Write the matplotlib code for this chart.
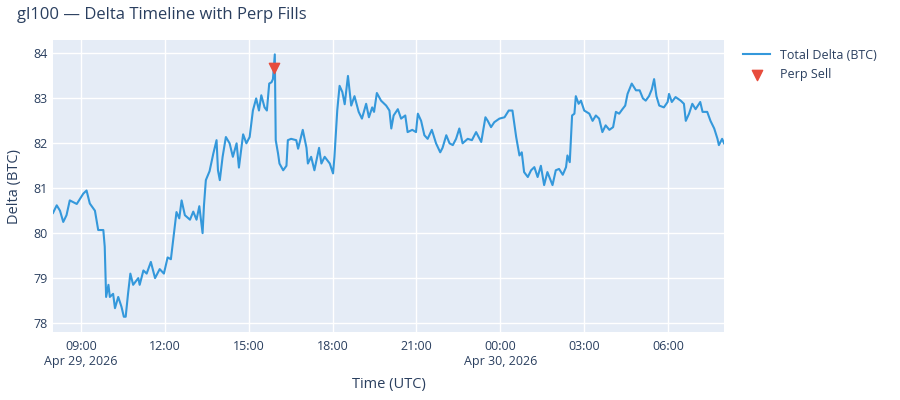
import pandas as pd
import matplotlib.pyplot as plt
import matplotlib.dates as mdates

plt.rcParams['font.family'] = ['Open Sans', 'DejaVu Sans']

start = pd.Timestamp('2026-04-29 08:00')

# minutes after 08:00 UTC, Apr 29
minutes = [0, 8, 15, 22, 29, 36, 51, 65, 72, 79, 90, 97, 108, 111, 114, 119, 122, 129, 133, 140,
           147, 152, 156, 161, 166, 172, 183, 186, 194, 201, 210, 219, 229, 238, 246, 253, 258, 265, 271, 276,
           283, 294, 301, 308, 314, 321, 324, 328, 336, 344, 351, 354, 358, 364, 371, 379, 386, 394, 399, 408,
           415, 422, 429, 436, 442, 447, 454, 459, 464, 469, 472, 476, 478, 483, 486, 494, 501, 504, 511, 522,
           526, 536, 544, 547, 554, 561, 571, 576, 583, 594, 601, 604, 610, 615, 621, 626, 633, 640, 647, 656,
           663, 672, 678, 685, 689, 695, 704, 715, 722, 726, 731, 740, 747, 756, 761, 771, 779, 783, 790, 797,
           804, 813, 822, 831, 836, 844, 851, 858, 865, 872, 879, 890, 899, 908, 919, 928, 933, 940, 947, 958,
           969, 978, 986, 994, 1001, 1006, 1011, 1019, 1026, 1033, 1040, 1047, 1054, 1061, 1072, 1079, 1086, 1094, 1101, 1104,
           1109, 1114, 1119, 1122, 1128, 1133, 1140, 1151, 1158, 1165, 1172, 1179, 1186, 1194, 1202, 1208, 1215, 1222, 1228, 1233,
           1242, 1251, 1259, 1266, 1272, 1279, 1285, 1290, 1295, 1301, 1311, 1319, 1322, 1328, 1336, 1347, 1354, 1358, 1365, 1372,
           1379, 1389, 1394, 1404, 1411, 1419, 1426, 1429, 1436, 1440]

delta = [80.45, 80.62, 80.5, 80.25, 80.4, 80.73, 80.65, 80.88, 80.95, 80.66, 80.5, 80.07, 80.07, 79.7, 78.58, 78.85, 78.58, 78.65, 78.33, 78.58,
         78.36, 78.14, 78.14, 78.65, 79.1, 78.85, 79.0, 78.85, 79.17, 79.1, 79.36, 79.0, 79.2, 79.1, 79.46, 79.42, 79.85, 80.47, 80.33, 80.73,
         80.4, 80.3, 80.48, 80.3, 80.6, 80.0, 80.62, 81.18, 81.38, 81.77, 82.07, 81.4, 81.18, 81.7, 82.14, 82.0, 81.7, 82.0, 81.46, 82.2,
         82.0, 82.14, 82.73, 83.0, 82.73, 83.07, 82.8, 82.73, 83.33, 83.36, 83.43, 83.98, 82.07, 81.77, 81.55, 81.4, 81.5, 82.07, 82.1, 82.07,
         81.88, 82.3, 81.9, 81.55, 81.7, 81.4, 81.9, 81.55, 81.7, 81.55, 81.33, 81.7, 82.73, 83.28, 83.14, 82.87, 83.5, 82.84, 83.05, 82.7,
         82.55, 82.88, 82.58, 82.8, 82.7, 83.12, 82.95, 82.84, 82.73, 82.33, 82.62, 82.76, 82.55, 82.62, 82.25, 82.3, 82.25, 82.66, 82.5, 82.18,
         82.1, 82.3, 82.0, 81.8, 81.9, 82.18, 82.0, 81.96, 82.1, 82.33, 82.0, 82.1, 82.07, 82.25, 82.03, 82.58, 82.5, 82.36, 82.47, 82.55,
         82.58, 82.73, 82.73, 82.14, 81.73, 81.8, 81.36, 81.25, 81.4, 81.47, 81.25, 81.5, 81.07, 81.36, 81.07, 81.4, 81.43, 81.3, 81.47, 81.73,
         81.58, 82.62, 82.66, 83.05, 82.88, 82.95, 82.73, 82.66, 82.5, 82.62, 82.55, 82.25, 82.4, 82.3, 82.36, 82.7, 82.66, 82.76, 82.84, 83.1,
         83.33, 83.18, 83.18, 83.0, 82.95, 83.05, 83.2, 83.43, 83.05, 82.84, 82.8, 82.92, 83.1, 82.92, 83.03, 82.95, 82.88, 82.5, 82.66, 82.88,
         82.76, 82.92, 82.7, 82.7, 82.5, 82.33, 82.1, 81.96, 82.1, 82.0]

sell_minutes = [474]
sell_delta = [83.68]

times = start + pd.to_timedelta(minutes, unit='m')
sell_times = start + pd.to_timedelta(sell_minutes, unit='m')

fig = plt.figure(figsize=(9, 4), dpi=100)
ax = fig.add_axes([53/900, 1-332/400, (724-53)/900, (332-40)/400])
ax.set_facecolor('#E5ECF6')
for s in ax.spines.values():
    s.set_visible(False)
ax.grid(True, color='white', linewidth=1)
ax.set_axisbelow(True)

ax.plot(times, delta, color='#3498db', linewidth=1.5, label='Total Delta (BTC)', zorder=3)
ax.scatter(sell_times, sell_delta, marker='v', s=55, color='#e74c3c', label='Perp Sell', zorder=4)

ax.set_xlim(times[0], times[-1])
ax.set_ylim(77.8, 84.3)
ax.set_yticks([78, 79, 80, 81, 82, 83, 84])

ax.xaxis.set_major_locator(mdates.HourLocator(byhour=[0, 3, 6, 9, 12, 15, 18, 21]))

def fmt(x, pos):
    d = mdates.num2date(x)
    s = d.strftime('%H:%M')
    if pos == 0 or d.hour == 0:
        s += '\n' + d.strftime('%b %d, %Y')
    return s

ax.xaxis.set_major_formatter(plt.FuncFormatter(fmt))

txt = '#2a3f5f'
ax.tick_params(axis='both', length=0, labelsize=9, labelcolor=txt)
ax.tick_params(axis='x', pad=6)
ax.tick_params(axis='y', pad=4)

ax.set_xlabel('Time (UTC)', fontsize=10.5, color=txt, labelpad=6)
ax.set_ylabel('Delta (BTC)', fontsize=10.5, color=txt, labelpad=8)
fig.text(17/900, 1-15/400, 'gl100 — Delta Timeline with Perp Fills', fontsize=12, color=txt, va='center', ha='left')

leg = ax.legend(loc='upper left', bbox_to_anchor=(1.015, 1.0), frameon=False, fontsize=9,
                labelcolor=txt, handlelength=2.2, borderaxespad=0.3)

plt.savefig('out.png', dpi=100)
